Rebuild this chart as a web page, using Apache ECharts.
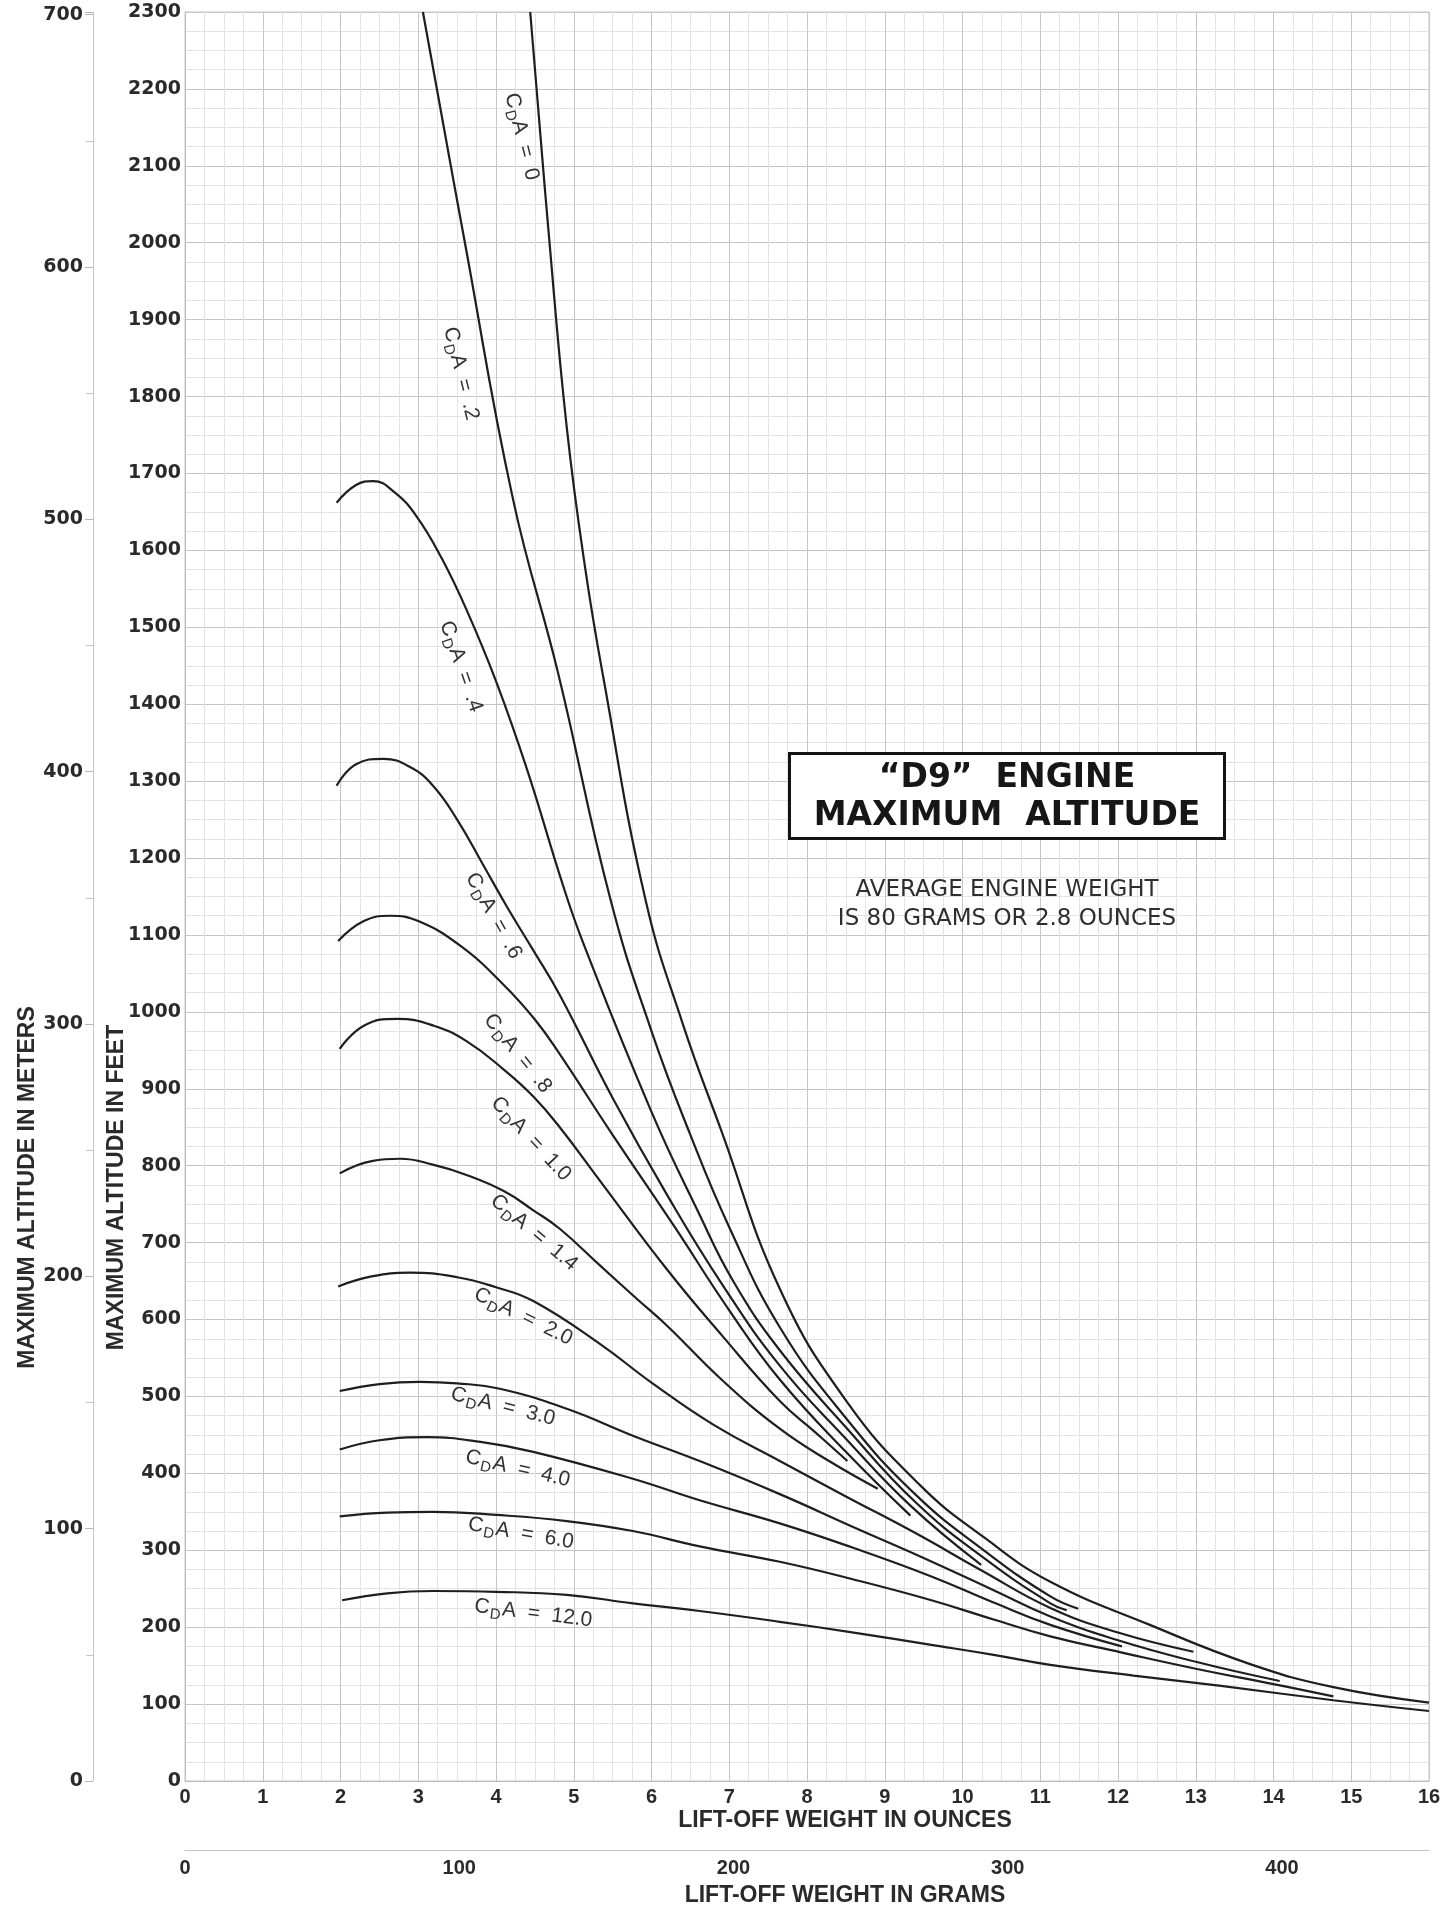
<!DOCTYPE html>
<html>
<head>
<meta charset="utf-8">
<script src="https://cdn.jsdelivr.net/npm/echarts@6/dist/echarts.min.js"></script>
<style>
html,body{margin:0;padding:0;background:#ffffff;}
#chart{width:1446px;height:1912px;}
</style>
</head>
<body>
<div id="chart"></div>
<script>
// ---------- DATA ----------
// x = lift-off weight (ounces), y = maximum altitude (feet)
const CDA_VALUES = ['0', '.2', '.4', '.6', '.8', '1.0', '1.4', '2.0', '3.0', '4.0', '6.0', '12.0'];

const cda0 = [[4.44,2300],[4.68,2010],[4.91,1760],[5.15,1575],[5.38,1435],[5.92,1147],[6.4,985],[6.9,845],[7.65,640],[8.5,495],[9.45,385],[10.3,315],[11.13,259],[12.41,203],[13.7,152],[14.77,122],[16,102]];
const cda02 = [[3.06,2300],[3.6,2000],[4.22,1666],[4.8,1440],[5.47,1147],[6.0,975],[6.5,840],[7.0,720],[7.65,590],[8.5,472],[9.4,372],[10.3,298],[11.13,240],[11.49,224]];
const cda04 = [[1.95,1662],[2.2,1685],[2.42,1690],[2.7,1675],[2.98,1644],[3.3,1590],[3.62,1523],[4.0,1430],[4.4,1315],[4.86,1165],[5.12,1090],[6.0,870],[6.6,740],[7.05,650],[7.65,560],[8.5,460],[9.4,362],[10.3,288],[11.13,231],[11.34,222]];
const cda06 = [[1.95,1294],[2.2,1322],[2.55,1329],[2.9,1318],[3.19,1294],[3.5,1250],[3.83,1192],[4.15,1135],[4.48,1080],[4.82,1022],[5.5,888],[6.2,762],[6.9,647],[7.65,540],[8.5,445],[9.33,358],[10.24,281]];
const cda08 = [[1.97,1092],[2.3,1118],[2.64,1125],[3.0,1118],[3.54,1086],[4.1,1035],[4.5,990],[4.82,945],[5.5,840],[6.3,720],[7.0,612],[7.65,522],[8.5,428],[9.33,345]];
const cda10 = [[1.99,952],[2.3,982],[2.73,991],[3.2,982],[3.62,962],[4.1,925],[4.48,890],[4.82,850],[5.34,780],[6.2,665],[6.9,580],[7.65,494],[8.1,454],[8.52,416]];
const cda14 = [[1.99,790],[2.4,806],[2.77,809],[3.2,801],[3.62,788],[4.1,767],[4.48,742],[4.82,718],[5.34,670],[5.81,627],[6.2,592],[6.9,522],[7.65,458],[8.3,415],[8.91,380]];
const cda20 = [[1.97,643],[2.4,656],[2.89,661],[3.5,655],[4.0,642],[4.48,624],[5.34,568],[6.0,518],[6.8,463],[7.65,416],[8.5,370],[9.4,322],[10.24,274],[11.13,225],[12.0,193],[12.97,168]];
const cda30 = [[1.99,507],[2.5,516],[3.02,519],[3.5,517],[4.05,510],[4.91,484],[5.76,449],[6.62,416],[7.65,373],[8.6,330],[9.5,290],[10.4,248],[11.13,214],[12.0,183],[13.0,155],[14.08,130]];
const cda40 = [[1.99,431],[2.5,443],[3.11,447],[3.8,441],[4.48,428],[5.76,393],[6.62,365],[7.65,335],[8.6,303],[9.6,266],[10.4,232],[11.13,203],[12.05,175]];
const cda60 = [[1.99,344],[2.6,349],[3.19,350],[4.0,346],[4.91,338],[5.76,325],[6.62,305],[7.65,285],[8.6,262],[9.6,235],[10.4,210],[11.13,188],[12.05,167],[13.0,146],[14.0,126],[14.77,110]];
const cda120 = [[2.02,235],[2.6,244],[3.19,247],[4.0,246],[4.91,242],[5.76,231],[6.62,221],[7.65,207],[8.6,193],[9.6,177],[10.4,164],[11.13,151],[12.2,137],[13.3,124],[14.77,105],[16,91]];

const CURVES = [cda0, cda02, cda04, cda06, cda08, cda10, cda14, cda20, cda30, cda40, cda60, cda120];

// where each curve's "CDA = ..." note sits (ounces, feet) and its slant (degrees)
const LABEL_ANCHORS = [[4.33,2138],[3.55,1830],[3.55,1449],[3.97,1125],[4.28,946],[4.45,835],[4.49,713],[4.35,604],[4.09,487],[4.28,406],[4.32,322],[4.48,218]];
const LABEL_ANGLES = [-76,-76,-71,-61,-51,-47,-40,-26,-14,-13,-10,-7];

// axis ranges
const OUNCE_MAX = 16;
const FEET_MAX = 2300;
const GRAMS_PER_OUNCE = 28.3495;
const METERS_PER_FOOT = 0.3048;

const TITLE_TEXT = '\u201CD9\u201D  ENGINE\nMAXIMUM  ALTITUDE';
const NOTE_TEXT = 'AVERAGE ENGINE WEIGHT\nIS 80 GRAMS OR 2.8 OUNCES';

// ---------- CHART ----------
const chart = echarts.init(document.getElementById('chart'), null, {renderer:'canvas'});

const gridMajor = {color:'#c6c6c6', width:1};
const gridMinor = {color:'#e3e3e3', width:1};
const labelFont = 'DejaVu Sans';
const titleFont = 'Liberation Sans';
const plain = v => String(Math.round(v));

const series = CURVES.map((d, i) => ({
  type: 'line',
  name: 'CDA = ' + CDA_VALUES[i],
  xAxisIndex: 0,
  yAxisIndex: 0,
  data: d,
  smooth: 0.45,
  showSymbol: false,
  symbol: 'none',
  clip: true,
  silent: true,
  z: 4,
  lineStyle: {color:'#1e1e1e', width:2.2},
  markPoint: {
    symbol: 'circle',
    symbolSize: 0,
    silent: true,
    data: [{
      coord: LABEL_ANCHORS[i],
      label: {
        show: true,
        position: 'inside',
        rotate: LABEL_ANGLES[i],
        formatter: function(){ return '{big|C}{sub|D}{big|A  =  ' + CDA_VALUES[i] + '}'; },
        rich: {
          big: {fontSize:21, color:'#333333', fontFamily:'Liberation Sans'},
          sub: {fontSize:15, color:'#333333', fontFamily:'Liberation Sans', padding:[12,1,0,1]}
        }
      }
    }]
  }
}));

const option = {
  animation: false,
  backgroundColor: '#ffffff',
  title: [
    {
      text: TITLE_TEXT,
      left: 983,
      top: 753,
      textAlign: 'center',
      padding: [6, 24, 4, 24],
      borderWidth: 3,
      borderColor: '#141414',
      backgroundColor: '#ffffff',
      textStyle: {fontSize:33, fontWeight:'bold', fontFamily:'DejaVu Sans', color:'#161616', lineHeight:38}
    },
    {
      text: NOTE_TEXT,
      left: 1007,
      top: 876,
      textAlign: 'center',
      padding: 0,
      textStyle: {fontSize:23, fontWeight:'normal', fontFamily:'DejaVu Sans', color:'#2e2e2e', lineHeight:29}
    }
  ],
  grid: {left:185, right:17, top:12, bottom:129, show:true, borderColor:'#c6c6c6', borderWidth:1, backgroundColor:'#ffffff'},
  xAxis: [
    {
      type: 'value', min: 0, max: OUNCE_MAX, interval: 1, position: 'bottom',
      axisLine: {show:true, onZero:false, lineStyle:{color:'#bdbdbd', width:1}},
      axisTick: {show:false},
      minorTick: {show:true, splitNumber:4, length:0},
      splitLine: {show:true, lineStyle:gridMajor},
      minorSplitLine: {show:true, lineStyle:gridMinor},
      axisLabel: {fontSize:20, fontFamily:'Liberation Sans', fontWeight:'bold', color:'#2a2a2a', margin:6, formatter:plain},
      name: 'LIFT-OFF WEIGHT IN OUNCES', nameLocation: 'middle', nameGap: 28, nameMoveOverlap: false,
      nameTextStyle: {fontSize:23, fontWeight:'bold', fontFamily:titleFont, color:'#2a2a2a', padding:[0,0,0,76]}
    },
    {
      type: 'value', min: 0, max: OUNCE_MAX * GRAMS_PER_OUNCE, interval: 100, position: 'bottom', offset: 69,
      axisLine: {show:true, onZero:false, lineStyle:{color:'#c4c4c4', width:1}},
      axisTick: {show:false},
      splitLine: {show:false},
      axisLabel: {fontSize:20, fontFamily:'Liberation Sans', fontWeight:'bold', color:'#2a2a2a', margin:8, showMaxLabel:false, formatter:plain},
      name: 'LIFT-OFF WEIGHT IN GRAMS', nameLocation: 'middle', nameGap: 34, nameMoveOverlap: false,
      nameTextStyle: {fontSize:23, fontWeight:'bold', fontFamily:titleFont, color:'#2a2a2a', padding:[0,0,0,76]}
    }
  ],
  yAxis: [
    {
      type: 'value', min: 0, max: FEET_MAX, interval: 100, position: 'left',
      axisLine: {show:true, onZero:false, lineStyle:{color:'#bdbdbd', width:1}},
      axisTick: {show:false},
      minorTick: {show:true, splitNumber:4, length:0},
      splitLine: {show:true, lineStyle:gridMajor},
      minorSplitLine: {show:true, lineStyle:gridMinor},
      axisLabel: {fontSize:19, fontFamily:labelFont, fontWeight:'bold', color:'#2a2a2a', margin:4, formatter:plain},
      name: 'MAXIMUM ALTITUDE IN FEET', nameLocation: 'middle', nameGap: 57, nameMoveOverlap: false,
      nameTextStyle: {fontSize:23, fontWeight:'bold', fontFamily:titleFont, color:'#2a2a2a', padding:[0,582,0,0]}
    },
    {
      type: 'value', min: 0, max: FEET_MAX * METERS_PER_FOOT, interval: 100, position: 'left', offset: 92,
      axisLine: {show:true, onZero:false, lineStyle:{color:'#c4c4c4', width:1}},
      axisTick: {show:true, length:8, lineStyle:{color:'#b5b5b5'}},
      minorTick: {show:true, splitNumber:2, length:7, lineStyle:{color:'#c5c5c5'}},
      splitLine: {show:false},
      axisLabel: {fontSize:19, fontFamily:labelFont, fontWeight:'bold', color:'#2a2a2a', margin:10, showMaxLabel:false, formatter:plain},
      name: 'MAXIMUM ALTITUDE IN METERS', nameLocation: 'middle', nameGap: 54, nameMoveOverlap: false,
      nameTextStyle: {fontSize:23, fontWeight:'bold', fontFamily:titleFont, color:'#2a2a2a', padding:[0,582,0,0]}
    }
  ],
  series: series
};

chart.setOption(option);
</script>
</body>
</html>
